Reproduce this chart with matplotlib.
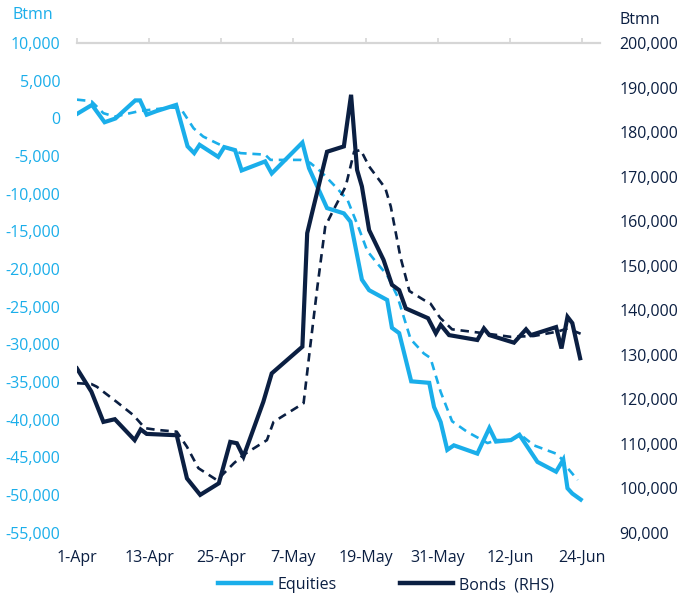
import numpy as np
import matplotlib.pyplot as plt

# days counted from 1-Apr
eq_days = [0, 2.5, 4.6, 6.4, 9.7, 10.5, 11.6, 13.3, 16.5, 18.4, 19.5, 20.4, 23.5, 24.5,
           26.3, 27.4, 31.3, 32.4, 37.5, 38.6, 41.6, 44.4, 45.5, 47.4, 48.6, 51.6, 52.4,
           53.6, 55.6, 58.6, 59.4, 60.5, 61.6, 62.7, 66.6, 68.6, 69.7, 72.2, 73.6, 76.6,
           79.7, 80.9, 81.6, 82.4, 83.8]
equities = [600, 1800, -500, 0, 2400, 2400, 500, 1000, 1800, -3700, -4600, -3500, -5100,
            -3800, -4200, -6900, -5700, -7300, -3200, -6600, -11900, -12600, -13700, -21400,
            -22800, -24100, -27800, -28500, -34900, -35100, -38300, -40300, -44000, -43400,
            -44500, -41100, -42900, -42700, -42000, -45600, -46900, -45300, -49100, -49800,
            -50600]

eq_ma_days = [0, 2.4, 4.4, 6.3, 10.5, 15.5, 17.2, 19.4, 21, 23.3, 24.4, 27.2, 31.3, 32.2,
              37.2, 38.8, 40.2, 41, 43.3, 45, 46.9, 48.3, 49.7, 51.6, 53.3, 55.5, 57.7, 58.8,
              60.5, 62.4, 64.9, 68.3, 69.9, 72.2, 73.8, 76, 79.7, 80.5, 81.6, 83.3]
equities_ma = [2500, 2300, 700, 250, 1000, 1450, 1400, -1300, -2400, -3300, -3700, -4600,
               -4800, -5500, -5500, -5900, -6800, -7400, -9300, -10800, -14600, -17600, -19000,
               -20800, -23600, -29300, -31200, -31800, -36300, -40200, -41600, -43100, -42700,
               -42700, -42000, -43400, -44500, -45100, -46400, -48000]

bond_days = [0, 2.4, 4.4, 6.3, 9.6, 10.6, 11.6, 16.6, 18.3, 20.5, 23.6, 25.5, 26.6, 27.7,
             31, 32.4, 37.5, 38.3, 39.1, 41.6, 44.4, 45.6, 46.6, 47.4, 48.6, 51, 52.4, 53.6,
             54.7, 58.4, 59.7, 60.5, 61.9, 66.6, 67.7, 68.6, 72.7, 74.7, 75.5, 79.7, 80.6,
             81.6, 82.4, 83.7]
bonds = [126900, 121700, 114900, 115500, 110800, 113200, 112200, 111900, 102200, 98500,
         101100, 110400, 110100, 107100, 119400, 125800, 131800, 157300, 161800, 175600,
         176800, 188400, 171500, 167800, 158000, 151300, 145700, 144500, 140400, 138200,
         134800, 136700, 134400, 133300, 135900, 134400, 132700, 135700, 134400, 136200,
         131400, 138500, 137100, 129200]

bond_ma_days = [0, 2.4, 3.3, 6.6, 9.4, 11.3, 13.3, 16.6, 18.3, 20.2, 23.3, 26.1, 27.7, 31.6,
                32.7, 37.7, 38.8, 40, 41.3, 42.4, 44.7, 46.1, 47.2, 48.6, 51.3, 52.2, 53.8,
                55.3, 57.7, 58.8, 60.4, 62.4, 67.2, 72.2, 76, 80, 81.6, 83.8]
bonds_ma = [123600, 123400, 122800, 119400, 116400, 113500, 113100, 112700, 109300, 104500,
            101800, 105600, 107500, 110800, 114900, 119100, 131800, 145300, 158800, 161800,
            167800, 175600, 176000, 172300, 167400, 163300, 152000, 144300, 142300, 141500,
            138300, 135700, 134900, 134000, 134200, 135200, 135900, 134700]

tick_days = [0, 12, 24, 36, 48, 60, 72, 84]
tick_labels = ['1-Apr', '13-Apr', '25-Apr', '7-May', '19-May', '31-May', '12-Jun', '24-Jun']

light = '#1aaeea'
navy = '#0b1f42'
grey = '#d6d6d6'
fs = 11.5

plt.rcParams['font.family'] = ['Open Sans', 'DejaVu Sans']

fig = plt.figure(figsize=(6.81, 5.97), dpi=100)
ax = fig.add_axes([0.113, 0.1077, 0.768, 0.820])
ax2 = ax.twinx()

ax.plot(eq_ma_days, equities_ma, color=light, lw=1.9, dashes=(3.2, 2.2))
ax.plot(eq_days, equities, color=light, lw=3, solid_joinstyle='miter')
ax2.plot(bond_ma_days, bonds_ma, color=navy, lw=1.9, dashes=(3.2, 2.2))
ax2.plot(bond_days, bonds, color=navy, lw=3, solid_joinstyle='miter')

ax.set_xlim(0, 87)
ax.set_ylim(-55000, 10000)
ax2.set_ylim(90000, 200000)
ax.set_yticks(np.arange(-55000, 10001, 5000))
ax2.set_yticks(np.arange(90000, 200001, 10000))
ax.yaxis.set_major_formatter(plt.FuncFormatter(lambda v, p: f'{v:,.0f}'))
ax2.yaxis.set_major_formatter(plt.FuncFormatter(lambda v, p: f'{v:,.0f}'))

ax.set_xticks(tick_days)
ax.set_xticklabels(tick_labels)
ax.tick_params(axis='x', top=True, bottom=False, labeltop=False, labelbottom=True,
               direction='out', length=3.5, width=1.2, color=grey, pad=9,
               labelsize=fs, labelcolor=navy)
ax.tick_params(axis='y', length=0, pad=12, labelsize=fs, labelcolor=light)
ax2.tick_params(axis='y', length=0, pad=14, labelsize=fs, labelcolor=navy)

for s in ['left', 'right', 'bottom']:
    ax.spines[s].set_visible(False)
ax.spines['top'].set_color(grey)
ax.spines['top'].set_linewidth(1.6)
for s in ax2.spines.values():
    s.set_visible(False)

fig.text(0.019, 0.975, 'Btmn', color=light, fontsize=fs, va='center')
fig.text(0.91, 0.966, 'Btmn', color=navy, fontsize=fs, va='center')

h1, = ax.plot([], [], color=light, lw=3.2)
h2, = ax.plot([], [], color=navy, lw=3.2)
fig.legend([h1, h2], ['Equities', 'Bonds  (RHS)'], loc='center', ncol=2,
           bbox_to_anchor=(0.567, 0.02), frameon=False, fontsize=fs,
           handlelength=3.3, columnspacing=4.0, handletextpad=0.4,
           labelcolor=navy)

fig.savefig('out.png', dpi=100)
